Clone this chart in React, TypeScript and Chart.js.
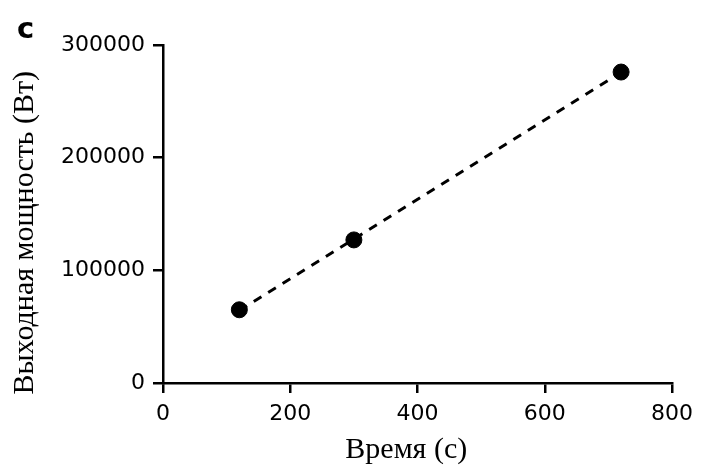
import React, { useEffect, useRef } from "react";
import { Chart, registerables } from "chart.js";

Chart.register(...registerables);

const timeValues: number[] = [120, 300, 720];
const powerValues: number[] = [65000, 127000, 276000];
const xTicks: number[] = [0, 200, 400, 600, 800];
const yTicks: number[] = [0, 100000, 200000, 300000];
const xTitle = "Время (с)";
const yTitle = "Выходная мощность (Вт)";
const panelLabel = "c";

function linearFit(xs: number[], ys: number[]) {
  const n = xs.length;
  const mx = xs.reduce((a, b) => a + b, 0) / n;
  const my = ys.reduce((a, b) => a + b, 0) / n;
  let sxy = 0;
  let sxx = 0;
  for (let i = 0; i < n; i++) {
    sxy += (xs[i] - mx) * (ys[i] - my);
    sxx += (xs[i] - mx) * (xs[i] - mx);
  }
  const slope = sxy / sxx;
  const intercept = my - slope * mx;
  return { slope, intercept };
}

export default function App() {
  const ref = useRef<HTMLCanvasElement | null>(null);

  useEffect(() => {
    document.body.style.margin = "0";
    if (!ref.current) return;
    const { slope, intercept } = linearFit(timeValues, powerValues);
    const xMin = Math.min(...timeValues);
    const xMax = Math.max(...timeValues);
    const fitData = [
      { x: xMin, y: intercept + slope * xMin },
      { x: xMax, y: intercept + slope * xMax },
    ];
    const points = timeValues.map((x, i) => ({ x, y: powerValues[i] }));

    const labelPlugin = {
      id: "panelLabel",
      afterDraw(chart: any) {
        const ctx = chart.ctx;
        ctx.save();
        ctx.font = "bold 29px 'DejaVu Sans'";
        ctx.fillStyle = "#000";
        ctx.textAlign = "left";
        ctx.textBaseline = "alphabetic";
        ctx.fillText(panelLabel, 17, 38);
        ctx.restore();
      },
    };

    const tickFont = { family: "'DejaVu Sans'", size: 22 };
    const titleFont = { family: "'Liberation Serif'", size: 30 };

    const chart = new Chart(ref.current, {
      type: "scatter",
      data: {
        datasets: [
          {
            label: "fit",
            data: fitData,
            showLine: true,
            borderColor: "#000",
            borderWidth: 3,
            borderDash: [9, 8],
            pointRadius: 0,
            fill: false,
            order: 2,
          },
          {
            label: "data",
            data: points,
            backgroundColor: "#000",
            borderColor: "#000",
            pointRadius: 8,
            pointHoverRadius: 8,
            order: 1,
          },
        ],
      },
      options: {
        animation: false,
        responsive: true,
        maintainAspectRatio: false,
        layout: { padding: { left: 0, right: 27, top: 45, bottom: 0 } },
        plugins: {
          legend: { display: false },
          tooltip: { enabled: false },
        },
        scales: {
          x: {
            type: "linear",
            min: 0,
            max: 800,
            afterBuildTicks: (scale: any) => {
              scale.ticks = xTicks.map((v) => ({ value: v }));
            },
            afterFit: (scale: any) => {
              scale.height = 89;
            },
            ticks: {
              font: tickFont,
              color: "#000",
              padding: 8,
              maxRotation: 0,
            },
            grid: {
              drawOnChartArea: false,
              drawTicks: true,
              tickLength: 10,
              color: "#000",
              lineWidth: 2.5,
            },
            border: { display: true, color: "#000", width: 2.5 },
            title: {
              display: true,
              text: xTitle + "   ",
              font: titleFont,
              color: "#000",
              padding: { top: 0, bottom: 4 },
            },
          },
          y: {
            type: "linear",
            min: 0,
            max: 300000,
            afterBuildTicks: (scale: any) => {
              scale.ticks = yTicks.map((v) => ({ value: v }));
            },
            afterFit: (scale: any) => {
              scale.width = 163;
            },
            ticks: {
              font: tickFont,
              color: "#000",
              padding: 8,
              callback: (v: any) => String(v),
            },
            grid: {
              drawOnChartArea: false,
              drawTicks: true,
              tickLength: 10,
              color: "#000",
              lineWidth: 2.5,
            },
            border: { display: true, color: "#000", width: 2.5 },
            title: {
              display: true,
              text: yTitle + "     ",
              font: titleFont,
              color: "#000",
              padding: { top: 7, bottom: 0 },
            },
          },
        },
      },
      plugins: [labelPlugin],
    } as any);

    return () => {
      chart.destroy();
    };
  }, []);

  return (
    <div style={{ position: "relative", width: "701px", height: "472px" }}>
      <canvas ref={ref} />
    </div>
  );
}
